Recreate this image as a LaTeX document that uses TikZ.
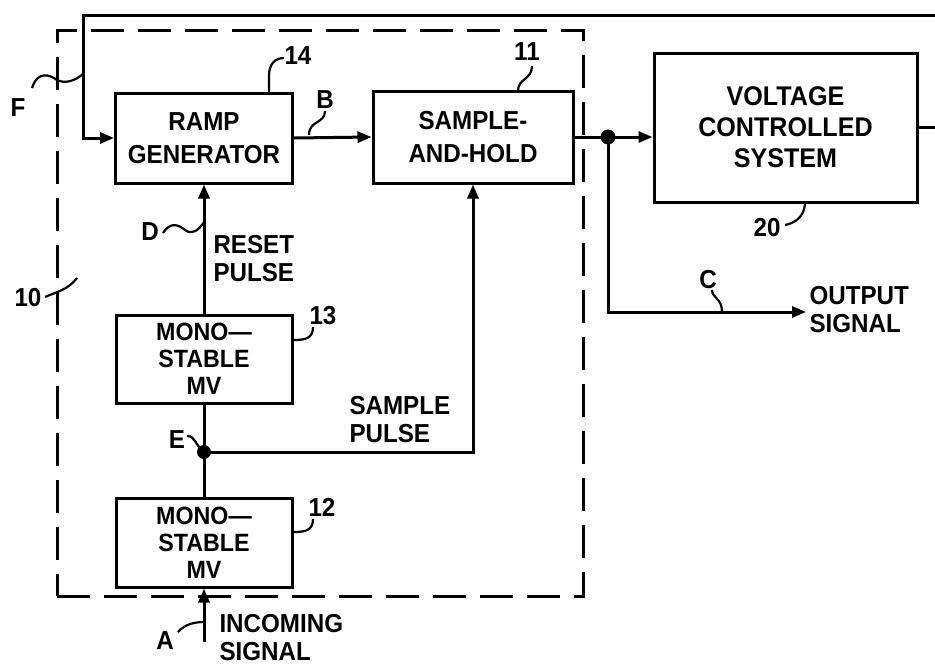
\documentclass[tikz,border=0pt]{standalone}
\usepackage{fontspec}
\setmainfont{Liberation Sans}[FakeStretch=0.93]
\usetikzlibrary{arrows.meta}
\begin{document}
\begin{tikzpicture}[x=1pt,y=-1pt, line width=3pt,
  box/.style={draw, line width=3pt, align=center, inner sep=0pt, font=\bfseries\fontsize{26}{33}\selectfont},
  lbl/.style={font=\bfseries\fontsize{26}{28}\selectfont, inner sep=0pt, align=left},
  arr/.style={-{Triangle[length=14pt,width=11pt]}},
  lead/.style={line width=2.2pt}]
\useasboundingbox (0,0) rectangle (935,665);
% dashed enclosure 10
\node[draw, dash pattern=on 33pt off 14pt, line width=3pt, minimum width=526pt, minimum height=566pt, inner sep=0pt] (sys) at (320,313) {};
% boxes
\node[box, minimum width=177pt, minimum height=90pt] (ramp) at (204,138) {RAMP\\GENERATOR};
\node[box, minimum width=200pt, minimum height=92pt] (sh) at (473,137) {SAMPLE-\\AND-HOLD};
\node[box, minimum width=263pt, minimum height=149pt, font=\bfseries\fontsize{27}{31}\selectfont] (vcs) at (785.5,127.5) {VOLTAGE\\CONTROLLED\\SYSTEM};
\node[box, minimum width=176pt, minimum height=88pt, font=\bfseries\fontsize{25}{27}\selectfont] (m13) at (204,359) {MONO---\\STABLE\\MV};
\node[box, minimum width=176pt, minimum height=89pt, font=\bfseries\fontsize{25}{27}\selectfont] (m12) at (204,542.5) {MONO---\\STABLE\\MV};
% feedback loop
\coordinate (fbR) at (935,15);
\coordinate (fbL) at (83,15);
\draw[arr] (fbR) -- (fbL) |- (ramp.west);
\coordinate (vcsR) at (935,127.5);
\draw (vcs.east) -- (vcsR);
% signal path
\draw[arr] (ramp.east) -- (sh.west);
\coordinate (j1) at (608,137);
\draw (sh.east) -- (j1);
\fill (j1) circle (7.5pt);
\draw[arr] (j1) -- (j1 -| vcs.west);
\coordinate (outc) at (806,312);
\draw[arr] (j1) |- (outc);
\node[lbl, anchor=west] (outtxt) at (808,310) {OUTPUT\\SIGNAL};
% monostables
\draw[arr] (m13.north) -- (ramp.south);
\coordinate (E) at (204,452);
\draw (m12.north) -- (E) -- (m13.south);
\fill (E) circle (7pt);
\draw[arr] (E) -| (sh.south);
\coordinate (inp) at (204,642);
\draw[arr] (inp) -- (m12.south);
% text labels
\node[lbl, anchor=west] (reset) at (212,259) {RESET\\PULSE};
\node[lbl, anchor=west] (sample) at (348,420) {SAMPLE\\PULSE};
\node[lbl, anchor=west] (incoming) at (218,638) {INCOMING\\SIGNAL};
% reference numerals and letters
\node[lbl] (n14) at (298,56) {14};
\draw[lead] (269,93) -- (269,76) .. controls (269,63) and (276,58) .. (284,58);
\node[lbl] (n11) at (527,52) {11};
\draw[lead] (518,91) .. controls (518,78) and (532,80) .. (532,66);
\node[lbl] (lB) at (325,100) {B};
\draw[lead] (309,135) .. controls (309,120) and (325,124) .. (325,111);
\node[lbl] (lF) at (18,108) {F};
\draw[lead] (32,88) .. controls (38,70) and (50,75) .. (57,80) .. controls (65,84) and (75,81) .. (83,74);
\node[lbl] (lD) at (150,232) {D};
\draw[lead] (163,233) .. controls (170,222) and (178,224) .. (185,230) .. controls (192,235) and (198,231) .. (204,222);
\node[lbl] (n10) at (28,298) {10};
\draw[lead] (45,297) .. controls (56,292) and (68,290) .. (77,278);
\node[lbl] (lE) at (177,440) {E};
\draw[lead] (187,436) .. controls (196,436) and (195,446) .. (203,450);
\node[lbl] (n13) at (323,316) {13};
\draw[lead] (294,340) .. controls (306,340) and (313,338) .. (313,327);
\node[lbl] (n12) at (322,507) {12};
\draw[lead] (294,532) .. controls (306,532) and (313,530) .. (313,519);
\node[lbl] (lA) at (165,641) {A};
\draw[lead] (178,632) .. controls (185,624) and (195,622) .. (204,622);
\node[lbl] (n20) at (767,228) {20};
\draw[lead] (785,225) .. controls (800,222) and (805,212) .. (805,202);
\node[lbl] (lC) at (708,280) {C};
\draw[lead] (712,290) .. controls (712,298) and (722,298) .. (722,312);
\end{tikzpicture}
\end{document}
